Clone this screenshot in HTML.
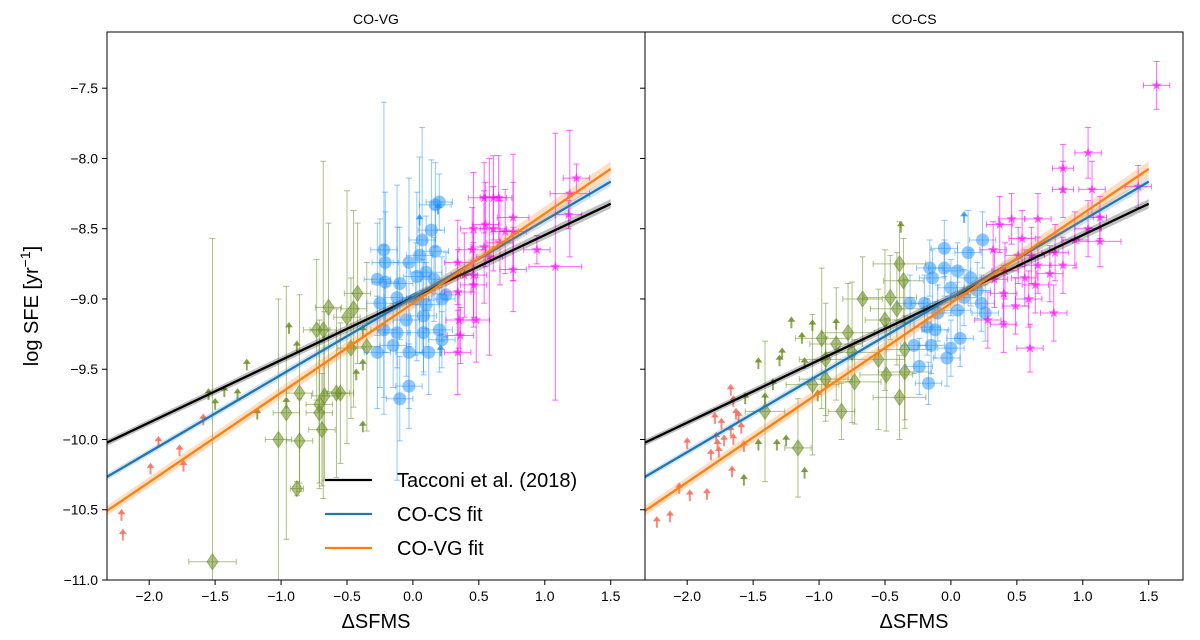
<!DOCTYPE html>
<html><head><meta charset="utf-8"><style>
html,body{margin:0;padding:0;background:#fff;width:1200px;height:640px;overflow:hidden;}
svg{display:block;}
svg text{font-family:"Liberation Sans","DejaVu Sans",sans-serif;fill:#000;}
</style></head><body>
<svg id="chart" width="1200" height="640" xmlns="http://www.w3.org/2000/svg">
<text x="376" y="24" font-size="14" text-anchor="middle">CO-VG</text>
<text x="914" y="24" font-size="14" text-anchor="middle">CO-CS</text>
<text x="914" y="628" font-size="20" text-anchor="middle">ΔSFMS</text>
<text x="376" y="628" font-size="20" text-anchor="middle">ΔSFMS</text>
<text transform="translate(38,306) rotate(-90)" font-size="20" text-anchor="middle">log SFE [yr<tspan baseline-shift="super" font-size="14">−1</tspan>]</text>
<g id="plots"></g>
</svg>
<script>
// ---- data: [x, y, xerr, yerr] ----
const blueL=[[0.17,-8.33,0.12,0.3],[0.2,-8.31,0.1,0.2],[0.14,-8.51,0.1,0.5],[0.07,-8.58,0.1,0.8],[-0.22,-8.65,0.1,1.05],[-0.21,-8.74,0.1,0.5],[-0.03,-8.74,0.12,0.6],[0.05,-8.69,0.1,0.7],[0.17,-8.66,0.1,0.3],[-0.27,-8.86,0.1,0.4],[-0.21,-8.88,0.1,0.5],[-0.1,-8.89,0.1,0.4],[0.03,-8.84,0.1,0.6],[0.1,-8.81,0.12,0.4],[0.16,-8.86,0.1,0.3],[-0.12,-8.99,0.1,0.5],[-0.25,-9.03,0.1,0.6],[0.02,-9.0,0.1,0.4],[0.1,-9.04,0.1,0.3],[0.22,-9.0,0.1,0.3],[0.25,-8.97,0.1,0.3],[-0.05,-9.15,0.1,0.4],[0.08,-9.12,0.1,0.4],[0.2,-9.22,0.1,0.3],[-0.22,-9.22,0.1,0.6],[-0.12,-9.24,0.1,1.05],[0.08,-9.24,0.12,0.3],[0.22,-9.29,0.1,0.2],[-0.27,-9.38,0.1,0.4],[-0.15,-9.33,0.1,0.3],[-0.03,-9.38,0.1,0.4],[0.12,-9.38,0.1,0.3],[-0.03,-9.62,0.1,0.3],[-0.1,-9.71,0.1,0.3]];
const blueArrL=[[0.05,-8.45],[0.19,-8.37],[0.21,-9.38]];
const magL=[[0.54,-8.28,0.12,0.25],[0.61,-8.28,0.1,0.3],[0.65,-8.28,0.1,0.3],[0.76,-8.42,0.12,0.45],[0.55,-8.47,0.1,0.3],[0.46,-8.5,0.1,0.4],[0.61,-8.5,0.1,0.3],[0.7,-8.52,0.1,0.3],[0.76,-8.52,0.1,0.35],[1.24,-8.14,0.1,0.1],[1.19,-8.25,0.15,0.45],[1.18,-8.4,0.1,0.1],[0.45,-8.65,0.1,0.3],[0.54,-8.63,0.1,0.4],[0.66,-8.6,0.1,0.3],[0.94,-8.65,0.1,0.1],[0.76,-8.79,0.1,0.3],[1.08,-8.77,0.2,0.95],[0.34,-8.74,0.1,0.3],[0.46,-8.83,0.1,0.3],[0.39,-8.83,0.1,0.3],[0.46,-8.9,0.1,0.3],[0.34,-8.95,0.1,0.3],[0.48,-9.15,0.1,0.3],[0.35,-9.15,0.1,0.2],[0.36,-9.26,0.1,0.2],[0.34,-9.38,0.1,0.3],[0.58,-8.7,0.1,0.7]];
const greenL=[[-0.42,-8.96,0.1,0.5],[-0.64,-9.06,0.1,0.6],[-0.45,-9.07,0.1,0.7],[-0.5,-9.13,0.1,0.9],[-0.68,-9.22,0.1,1.2],[-0.73,-9.22,0.1,0.5],[-0.35,-9.34,0.1,0.6],[-0.47,-9.35,0.1,0.5],[-0.86,-9.67,0.1,0.7],[-0.58,-9.67,0.1,0.6],[-0.55,-9.67,0.1,0.5],[-0.67,-9.69,0.1,0.6],[-0.71,-9.75,0.1,0.6],[-0.96,-9.81,0.1,0.9],[-0.71,-9.81,0.1,0.5],[-0.69,-9.93,0.1,0.4],[-1.02,-10.0,0.1,1.0],[-0.86,-10.01,0.1,0.3],[-0.88,-10.35,0.05,0.05],[-1.52,-10.87,0.18,2.3]];
const greenArrL=[[-0.94,-9.22],[-0.88,-9.35],[-1.26,-9.48],[-1.43,-9.67],[-1.55,-9.69],[-1.33,-9.69],[-1.5,-9.76],[-1.18,-9.83],[-0.96,-9.75],[-0.38,-9.48],[-0.43,-9.55],[-0.38,-9.92],[-0.38,-9.24]];
const redArrL=[[-1.59,-9.87],[-1.93,-10.03],[-1.77,-10.09],[-1.99,-10.22],[-1.74,-10.2],[-2.21,-10.55],[-2.2,-10.69]];
const magR=[[1.56,-7.48,0.1,0.17],[1.04,-7.96,0.1,0.18],[0.85,-8.07,0.08,0.17],[0.85,-8.22,0.08,0.2],[1.07,-8.22,0.1,0.2],[1.42,-8.2,0.1,0.15],[1.13,-8.42,0.05,0.15],[0.66,-8.43,0.1,0.18],[0.46,-8.43,0.1,0.18],[0.37,-8.47,0.1,0.2],[1.04,-8.5,0.1,0.2],[1.13,-8.59,0.16,0.18],[0.54,-8.57,0.1,0.2],[0.32,-8.65,0.1,0.2],[0.79,-8.67,0.1,0.2],[0.61,-8.69,0.1,0.2],[0.51,-8.69,0.1,0.2],[0.85,-8.76,0.1,0.2],[0.66,-8.76,0.1,0.2],[0.75,-8.82,0.1,0.2],[0.41,-8.8,0.1,0.2],[0.56,-8.85,0.1,0.2],[0.33,-8.86,0.1,0.2],[0.64,-8.9,0.1,0.2],[0.4,-8.96,0.1,0.2],[0.59,-9.0,0.1,0.2],[0.49,-9.05,0.1,0.2],[0.28,-9.15,0.1,0.2],[0.78,-9.1,0.1,0.2],[0.4,-9.18,0.1,0.2],[0.6,-9.35,0.1,0.17],[0.94,-8.58,0.1,0.2]];
const blueR=[[0.24,-8.58,0.1,0.2],[0.13,-8.67,0.1,0.3],[-0.05,-8.64,0.1,0.2],[-0.16,-8.78,0.1,0.2],[-0.05,-8.78,0.12,0.2],[0.05,-8.8,0.1,0.2],[0.15,-8.85,0.1,0.2],[-0.14,-8.85,0.1,0.2],[0.0,-8.92,0.1,0.2],[0.2,-8.94,0.1,0.2],[0.1,-8.99,0.1,0.2],[0.23,-9.03,0.1,0.2],[-0.31,-9.03,0.1,0.2],[-0.2,-9.03,0.1,0.2],[0.05,-9.08,0.1,0.2],[0.26,-9.1,0.1,0.2],[-0.1,-9.1,0.1,0.2],[-0.12,-9.22,0.1,0.2],[-0.18,-9.2,0.1,0.2],[0.07,-9.28,0.1,0.2],[0.0,-9.35,0.1,0.2],[-0.28,-9.33,0.1,0.2],[-0.15,-9.33,0.1,0.2],[-0.03,-9.42,0.1,0.2],[-0.24,-9.48,0.1,0.2],[-0.17,-9.6,0.1,0.15]];
const blueArrR=[[0.1,-8.43]];
const greenR=[[-0.39,-8.75,0.2,0.3],[-0.36,-8.87,0.15,0.3],[-0.46,-8.99,0.2,0.3],[-0.67,-9.0,0.15,0.3],[-0.41,-9.07,0.2,0.4],[-0.5,-9.15,0.15,0.5],[-0.78,-9.24,0.2,0.35],[-0.98,-9.28,0.2,0.5],[-0.87,-9.32,0.2,0.4],[-0.35,-9.36,0.2,0.5],[-0.75,-9.38,0.2,0.5],[-0.55,-9.43,0.2,0.5],[-0.95,-9.43,0.2,0.4],[-0.35,-9.52,0.2,0.4],[-0.95,-9.57,0.2,0.3],[-1.05,-9.61,0.2,0.5],[-0.73,-9.59,0.2,0.3],[-0.49,-9.54,0.2,0.4],[-0.39,-9.7,0.2,0.3],[-0.83,-9.8,0.1,0.2],[-1.41,-9.8,0.15,0.5],[-1.16,-10.06,0.1,0.35]];
const greenArrR=[[-0.38,-8.5],[-1.21,-9.18],[-1.05,-9.2],[-0.87,-9.19],[-1.13,-9.29],[-1.28,-9.4],[-1.3,-9.45],[-1.46,-9.47],[-1.11,-9.47],[-1.41,-9.72],[-1.35,-9.62],[-1.56,-9.72],[-1.46,-10.05],[-1.32,-10.05],[-1.25,-10.02],[-1.11,-10.25],[-1.57,-10.3],[-1.01,-9.7]];
const redArrR=[[-1.67,-9.66],[-1.65,-9.74],[-1.63,-9.83],[-1.61,-9.85],[-1.79,-9.86],[-1.74,-9.9],[-1.59,-9.93],[-1.67,-9.95],[-1.78,-10.0],[-1.65,-10.01],[-2.0,-10.04],[-1.77,-10.05],[-1.72,-10.02],[-1.57,-10.06],[-1.82,-10.12],[-1.76,-10.1],[-1.66,-10.24],[-2.06,-10.36],[-1.98,-10.41],[-1.85,-10.4],[-2.23,-10.6],[-2.13,-10.56]];
// fit lines [intercept at x=0, slope]
const fitNames=['Tacconi et al. (2018)','CO-CS fit','CO-VG fit'];
const fitIntercepts=[-8.99,-8.99,-9.03];
const fitSlopes=[0.445,0.55,0.637];
const xTicks=[-2.0,-1.5,-1.0,-0.5,0.0,0.5,1.0,1.5];
const yTicks=[-7.5,-8.0,-8.5,-9.0,-9.5,-10.0,-10.5,-11.0];

const NS='http://www.w3.org/2000/svg';
const top_=32,bot=580,X0=-2.32,X1=1.76,Y0=-11.0,Y1=-7.1;
const root=document.getElementById('plots');
function el(tag,attrs,parent){const e=document.createElementNS(NS,tag);for(const k in attrs)e.setAttribute(k,attrs[k]);(parent||root).appendChild(e);return e;}
function panel(left,right,name,blue,blueArr,mag,green,greenArr,redArr,showY){
  const sx=v=>left+(v-X0)/(X1-X0)*(right-left);
  const sy=v=>bot-(v-Y0)/(Y1-Y0)*(bot-top_);
  const cy=v=>Math.max(top_,Math.min(bot,v));
  const cx=v=>Math.max(left,Math.min(right,v));
  const g=el('g',{});
  
  
  const cp=el('clipPath',{id:'cp'+name},g);el('rect',{x:left,y:top_,width:right-left,height:bot-top_},cp);
  const pg=el('g',{'clip-path':'url(#cp'+name+')'},g);
  function errpts(arr,color,op,marker,nm){
    arr.forEach(d=>{
      const x=sx(d[0]),y=sy(d[1]);
      const e=el('g',{stroke:color,'stroke-opacity':op,fill:color,'fill-opacity':op},pg);
      
      
      const x1=cx(sx(d[0]-d[2])),x2=cx(sx(d[0]+d[2])),y1=cy(sy(d[1]-d[3])),y2=cy(sy(d[1]+d[3]));
      el('line',{x1:x1,x2:x2,y1:y,y2:y,'stroke-width':1},e);
      el('line',{x1:x,x2:x,y1:y1,y2:y2,'stroke-width':1},e);
      el('line',{x1:x1,x2:x1,y1:y-3,y2:y+3},e);el('line',{x1:x2,x2:x2,y1:y-3,y2:y+3},e);
      if(y1<bot)el('line',{x1:x-3,x2:x+3,y1:y1,y2:y1},e);
      if(y2>top_)el('line',{x1:x-3,x2:x+3,y1:y2,y2:y2},e);
      if(marker==='o')el('circle',{cx:x,cy:y,r:6.5,stroke:'none'},e);
      else if(marker==='d')el('path',{d:`M${x} ${y-8}L${x+5.5} ${y}L${x} ${y+8}L${x-5.5} ${y}Z`,'stroke-width':1},e);
      else {let p='';for(let i=0;i<10;i++){const r=i%2?2.2:5.5,a=-Math.PI/2+i*Math.PI/5;p+=(i?'L':'M')+(x+r*Math.cos(a)).toFixed(1)+' '+(y+r*Math.sin(a)).toFixed(1);}el('path',{d:p+'Z',stroke:'none'},e);}
    });
  }
  function arrows(arr,color,nm){
    arr.forEach(d=>{const x=sx(d[0]),y=sy(d[1]);
      const a=el('g',{stroke:color,fill:color,'stroke-width':2},pg);
      
      
      el('line',{x1:x,x2:x,y1:y+4,y2:y-5},a);
      el('path',{d:`M${x-3} ${y-3}L${x} ${y-7}L${x+3} ${y-3}Z`,'stroke-width':1},a);});
  }
  errpts(green,'#6b8e23',0.55,'d','green-diamond-point');
  arrows(greenArr,'rgba(107,142,35,0.75)','green-lower-limit');
  arrows(redArr,'rgba(250,110,95,0.8)','red-lower-limit');
  errpts(blue,'#1e90ff',0.5,'o','blue-circle-point');
  arrows(blueArr,'rgba(30,144,255,0.7)','blue-lower-limit');
  errpts(mag,'#ff00ff',0.6,'s','magenta-star-point');
  const cols=['#000000','#1f77b4','#ff7f0e'],bands=['rgba(0,0,0,0.25)','rgba(31,119,180,0.2)','rgba(255,127,14,0.25)'],bw=[0.022,0.022,0.035];
  for(let i=0;i<3;i++){
    const xa=X0,xb=1.5,ya=fitIntercepts[i]+fitSlopes[i]*xa,yb=fitIntercepts[i]+fitSlopes[i]*xb;
    const b=el('path',{d:`M${sx(xa)} ${sy(ya+bw[i])}L${sx(xb)} ${sy(yb+bw[i]*1.5)}L${sx(xb)} ${sy(yb-bw[i]*1.5)}L${sx(xa)} ${sy(ya-bw[i])}Z`,fill:bands[i]},pg);
    
    
    const l=el('line',{x1:sx(xa),y1:sy(ya),x2:sx(xb),y2:sy(yb),stroke:cols[i],'stroke-width':2.3},pg);
    
    
  }
  el('rect',{x:left,y:top_,width:right-left,height:bot-top_,fill:'none',stroke:'#000','stroke-width':1},g);
  xTicks.forEach(t=>{const x=sx(t);el('line',{x1:x,x2:x,y1:bot,y2:bot+5,stroke:'#000'},g);
    const tx=el('text',{x:x,y:bot+21,'font-size':14,'text-anchor':'middle'},g);tx.textContent=(t<0?'−':'')+Math.abs(t).toFixed(1);
    
    });
  yTicks.forEach(t=>{const y=sy(t);el('line',{x1:left-5,x2:left,y1:y,y2:y,stroke:'#000'},g);
    if(showY){const tx=el('text',{x:left-9,y:y+5,'font-size':14,'text-anchor':'end'},g);tx.textContent='−'+Math.abs(t).toFixed(1);
    
    }});
  return {sx,sy,g};
}
panel(107,645,'co-vg',blueL,blueArrL,magL,greenL,greenArrL,redArrL,true);
panel(645,1183,'co-cs',blueR,blueArrR,magR,greenR,greenArrR,redArrR,false);
// legend
const lg=el('g',{});


const lc=['#000','#1f77b4','#ff7f0e'];
fitNames.forEach((n,i)=>{const y=480+i*34;
  const e=el('g',{},lg);
  
  
  el('line',{x1:325,x2:372,y1:y,y2:y,stroke:lc[i],'stroke-width':2.3},e);
  const t=el('text',{x:397,y:y+7,'font-size':20},e);t.textContent=n;});
</script>
</body></html>
